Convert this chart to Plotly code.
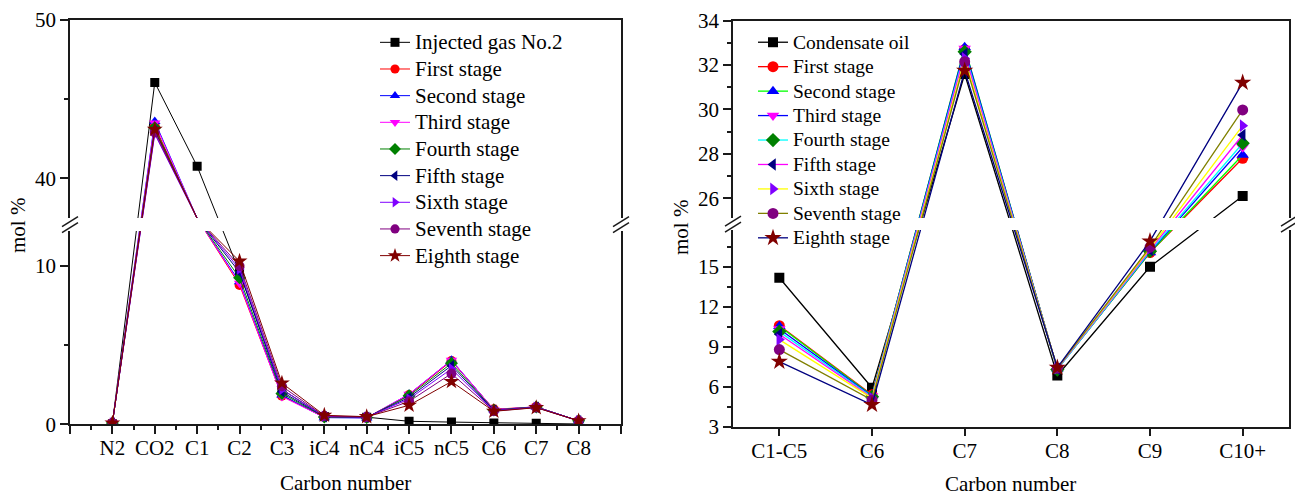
import plotly.graph_objects as go

W, H = 1295, 497
FONT = "Liberation Serif, Times New Roman, DejaVu Serif, serif"
AXIS_COLOR = "#1a1a1a"

# ---------------- left panel: injected gas composition by stage ----------------
gas_components = ["N2", "CO2", "C1", "C2", "C3", "iC4", "nC4", "iC5", "nC5", "C6", "C7", "C8"]
injected_gas = [0.03, 46.06, 40.77, 9.6, 2.2, 0.5, 0.45, 0.19, 0.14, 0.08, 0.06, 0.02]
gas_stage1 = [0.08, 43.3, 37.25, 8.8, 1.8, 0.45, 0.42, 1.85, 4.0, 0.95, 1.1, 0.22]
gas_stage2 = [0.08, 43.6, 36.9, 9.0, 1.85, 0.42, 0.4, 1.9, 4.05, 0.92, 1.1, 0.22]
gas_stage3 = [0.08, 43.5, 37.1, 8.9, 1.75, 0.44, 0.42, 1.9, 4.05, 0.93, 1.1, 0.22]
gas_stage4 = [0.08, 43.2, 37.0, 9.25, 1.95, 0.46, 0.43, 1.8, 3.85, 0.9, 1.1, 0.22]
gas_stage5 = [0.08, 43.0, 36.95, 9.6, 2.05, 0.48, 0.44, 1.7, 3.7, 0.88, 1.08, 0.22]
gas_stage6 = [0.08, 42.8, 37.0, 9.8, 2.2, 0.5, 0.45, 1.6, 3.5, 0.86, 1.08, 0.22]
gas_stage7 = [0.08, 42.9, 36.95, 10.0, 2.4, 0.52, 0.46, 1.45, 3.2, 0.84, 1.06, 0.22]
gas_stage8 = [0.08, 43.1, 36.7, 10.3, 2.6, 0.57, 0.48, 1.2, 2.7, 0.82, 1.05, 0.22]

# ---------------- right panel: condensate oil composition by stage ----------------
oil_fractions = ["C1-C5", "C6", "C7", "C8", "C9", "C10+"]
condensate_oil = [14.2, 5.93, 31.6, 6.85, 15.03, 26.1]
oil_stage1 = [10.6, 5.4, 32.7, 7.35, 16.1, 27.8]
oil_stage2 = [10.55, 5.35, 32.8, 7.35, 16.1, 27.95]
oil_stage3 = [10.35, 5.3, 32.75, 7.35, 16.15, 28.3]
oil_stage4 = [10.15, 5.25, 32.6, 7.3, 16.2, 28.48]
oil_stage5 = [9.95, 5.2, 32.5, 7.35, 16.3, 28.85]
oil_stage6 = [9.55, 5.15, 32.3, 7.4, 16.4, 29.27]
oil_stage7 = [8.8, 5.0, 32.15, 7.4, 16.5, 29.98]
oil_stage8 = [7.9, 4.65, 31.75, 7.45, 16.95, 31.21]

stage_names = ["First stage", "Second stage", "Third stage", "Fourth stage", "Fifth stage",
               "Sixth stage", "Seventh stage", "Eighth stage"]

left_y_major = [0, 10, 40, 50]
left_y_minor = [5, 45]
right_y_major = [3, 6, 9, 12, 15, 26, 28, 30, 32, 34]
right_y_minor = [4.5, 7.5, 10.5, 13.5, 16.5, 27, 29, 31, 33]

LEFT_BREAK = (12.2, 37.5)
RIGHT_BREAK = (17.79, 25.11)


def broken_scale(lo, a, b, s_low, s_up, gap):
    """Piecewise-linear scale for a y axis broken between a and b."""
    def f(v):
        if v <= a:
            return (v - lo) * s_low
        if v >= b:
            return (a - lo) * s_low + gap + (v - b) * s_up
        return (a - lo) * s_low + (v - a) / (b - a) * gap
    return f


def legend_label(text, px):
    return f"<span style='font-size:{px}px'>{text}</span>"


def marker_sizes(vals, size, brk):
    # points that fall inside the axis break are not drawn
    return [0 if brk[0] < v < brk[1] else size for v in vals]


left_scale = broken_scale(0, LEFT_BREAK[0], LEFT_BREAK[1], 15.84, 15.85, 13)
right_scale = broken_scale(3, RIGHT_BREAK[0], RIGHT_BREAK[1], 13.3, 22.2, 12)

fig = go.Figure()

# left traces
left_series = [("Injected gas No.2", injected_gas, "black", "square", 9)] + list(zip(
    stage_names,
    [gas_stage1, gas_stage2, gas_stage3, gas_stage4, gas_stage5, gas_stage6, gas_stage7, gas_stage8],
    ["#ff0000", "#0000ff", "#ff00ff", "#008000", "#000080", "#8000ff", "#800080", "#800000"],
    ["circle", "triangle-up", "triangle-down", "diamond", "triangle-left", "triangle-right", "circle", "star"],
    [10, 10, 10, 10, 10, 10, 10, 12],
))
left_x = list(range(1, len(gas_components) + 1))
for name, vals, color, sym, size in left_series:
    fig.add_trace(go.Scatter(
        x=left_x, y=[left_scale(v) for v in vals], customdata=vals,
        mode="lines+markers", name=legend_label(name, 21), legend="legend",
        line=dict(color=color, width=1),
        marker=dict(color=color, symbol=sym, size=marker_sizes(vals, size, LEFT_BREAK),
                    opacity=1, line=dict(width=0)),
        xaxis="x", yaxis="y",
    ))

# right traces (line colour and marker colour differ)
right_series = [("Condensate oil", condensate_oil, "black", "black", "square", 10)] + list(zip(
    stage_names,
    [oil_stage1, oil_stage2, oil_stage3, oil_stage4, oil_stage5, oil_stage6, oil_stage7, oil_stage8],
    ["#ff0000", "#00ff00", "#0000ff", "#00ffff", "#ff00ff", "#ffff00", "#808000", "#000080"],
    ["#ff0000", "#0000ff", "#ff00ff", "#008000", "#000080", "#8000ff", "#800080", "#800000"],
    ["circle", "triangle-up", "triangle-down", "diamond", "triangle-left", "triangle-right", "circle", "star"],
    [11, 11, 11, 11, 11, 11, 11, 13],
))
right_x = list(range(len(oil_fractions)))
for name, vals, lcolor, mcolor, sym, size in right_series:
    fig.add_trace(go.Scatter(
        x=right_x, y=[right_scale(v) for v in vals], customdata=vals,
        mode="lines+markers", name=legend_label(name, 19.5), legend="legend2",
        line=dict(color=lcolor, width=1.3),
        marker=dict(color=mcolor, symbol=sym, size=marker_sizes(vals, size, RIGHT_BREAK),
                    opacity=1, line=dict(width=0)),
        xaxis="x2", yaxis="y2",
    ))

axis_common = dict(
    showline=True, linecolor=AXIS_COLOR, linewidth=1.5, mirror=True,
    ticks="outside", ticklen=8, tickwidth=1.5, tickcolor=AXIS_COLOR,
    showgrid=False, zeroline=False, automargin=False,
    tickfont=dict(family=FONT, size=21, color="black"),
)

fig.update_layout(
    template="none",
    width=W, height=H,
    margin=dict(l=0, r=0, t=0, b=0, pad=0, autoexpand=False),
    paper_bgcolor="white", plot_bgcolor="white",
    font=dict(family=FONT, size=21, color="black"),
    xaxis=dict(
        axis_common, domain=[70 / W, 621 / W], anchor="y",
        range=[0, len(gas_components) + 1],
        tickmode="array", tickvals=list(range(0, len(gas_components) + 2)),
        ticktext=[""] + gas_components + [""], ticklabelstandoff=-4,
        minor=dict(tickmode="linear", tick0=0.5, dtick=1, ticks="outside",
                   ticklen=4, tickwidth=1.5, tickcolor=AXIS_COLOR, showgrid=False),
    ),
    yaxis=dict(
        axis_common, domain=[1 - 424.3 / H, 1 - 20 / H], anchor="x",
        range=[0, left_scale(50)],
        tickmode="array", tickvals=[left_scale(v) for v in left_y_major],
        ticktext=[str(v) for v in left_y_major],
        minor=dict(tickmode="array", tickvals=[left_scale(v) for v in left_y_minor],
                   ticks="outside", ticklen=4, tickwidth=1.5, tickcolor=AXIS_COLOR, showgrid=False),
    ),
    xaxis2=dict(
        axis_common, domain=[733 / W, 1289 / W], anchor="y2",
        range=[-0.5, len(oil_fractions) - 0.5],
        tickmode="array", tickvals=right_x, ticktext=oil_fractions, ticklabelstandoff=-4,
    ),
    yaxis2=dict(
        axis_common, domain=[1 - 426.7 / H, 1 - 20.7 / H], anchor="x2",
        range=[0, right_scale(34)],
        tickmode="array", tickvals=[right_scale(v) for v in right_y_major],
        ticktext=[str(v) for v in right_y_major],
        minor=dict(tickmode="array", tickvals=[right_scale(v) for v in right_y_minor],
                   ticks="outside", ticklen=4, tickwidth=1.5, tickcolor=AXIS_COLOR, showgrid=False),
    ),
    legend=dict(
        x=375 / W, y=1 - 24 / H, xanchor="left", yanchor="top", borderwidth=0,
        bgcolor="rgba(0,0,0,0)", font=dict(family=FONT, size=18.2), tracegroupgap=0,
    ),
    legend2=dict(
        x=753 / W, y=1 - 25 / H, xanchor="left", yanchor="top", borderwidth=0,
        bgcolor="rgba(0,0,0,0)", font=dict(family=FONT, size=16.5), tracegroupgap=0,
    ),
    showlegend=True,
)

# axis breaks: white band over the gap plus "//" marks on both vertical edges
shapes = []
for xref, yref, scale, brk in [("x domain", "y", left_scale, LEFT_BREAK),
                               ("x2 domain", "y2", right_scale, RIGHT_BREAK)]:
    g0, g1 = scale(brk[0]), scale(brk[1])
    shapes.append(dict(type="rect", xref=xref, yref=yref, x0=-0.015, x1=1.015, y0=g0, y1=g1,
                       fillcolor="white", line=dict(width=0), layer="above"))
    mid = (g0 + g1) / 2
    for edge in (0, 1):
        for dy in (-3, 3):
            shapes.append(dict(type="line", xref=xref, yref=yref,
                               xsizemode="pixel", xanchor=edge, x0=-8, x1=8,
                               ysizemode="pixel", yanchor=mid, y0=dy - 5, y1=dy + 5,
                               line=dict(color=AXIS_COLOR, width=1.5), layer="above"))
fig.update_layout(shapes=shapes)

# axis titles
title_font = dict(family=FONT, size=21, color="black")
for text, px, py, angle in [("mol %", 18, 226, -90), ("mol %", 681, 228, -90),
                            ("Carbon number", 345, 483, 0), ("Carbon number", 1010, 484, 0)]:
    fig.add_annotation(text=text, textangle=angle, x=px / W, y=1 - py / H,
                       xref="paper", yref="paper", xanchor="center", yanchor="middle",
                       showarrow=False, font=title_font)

fig.write_html("out.html")
